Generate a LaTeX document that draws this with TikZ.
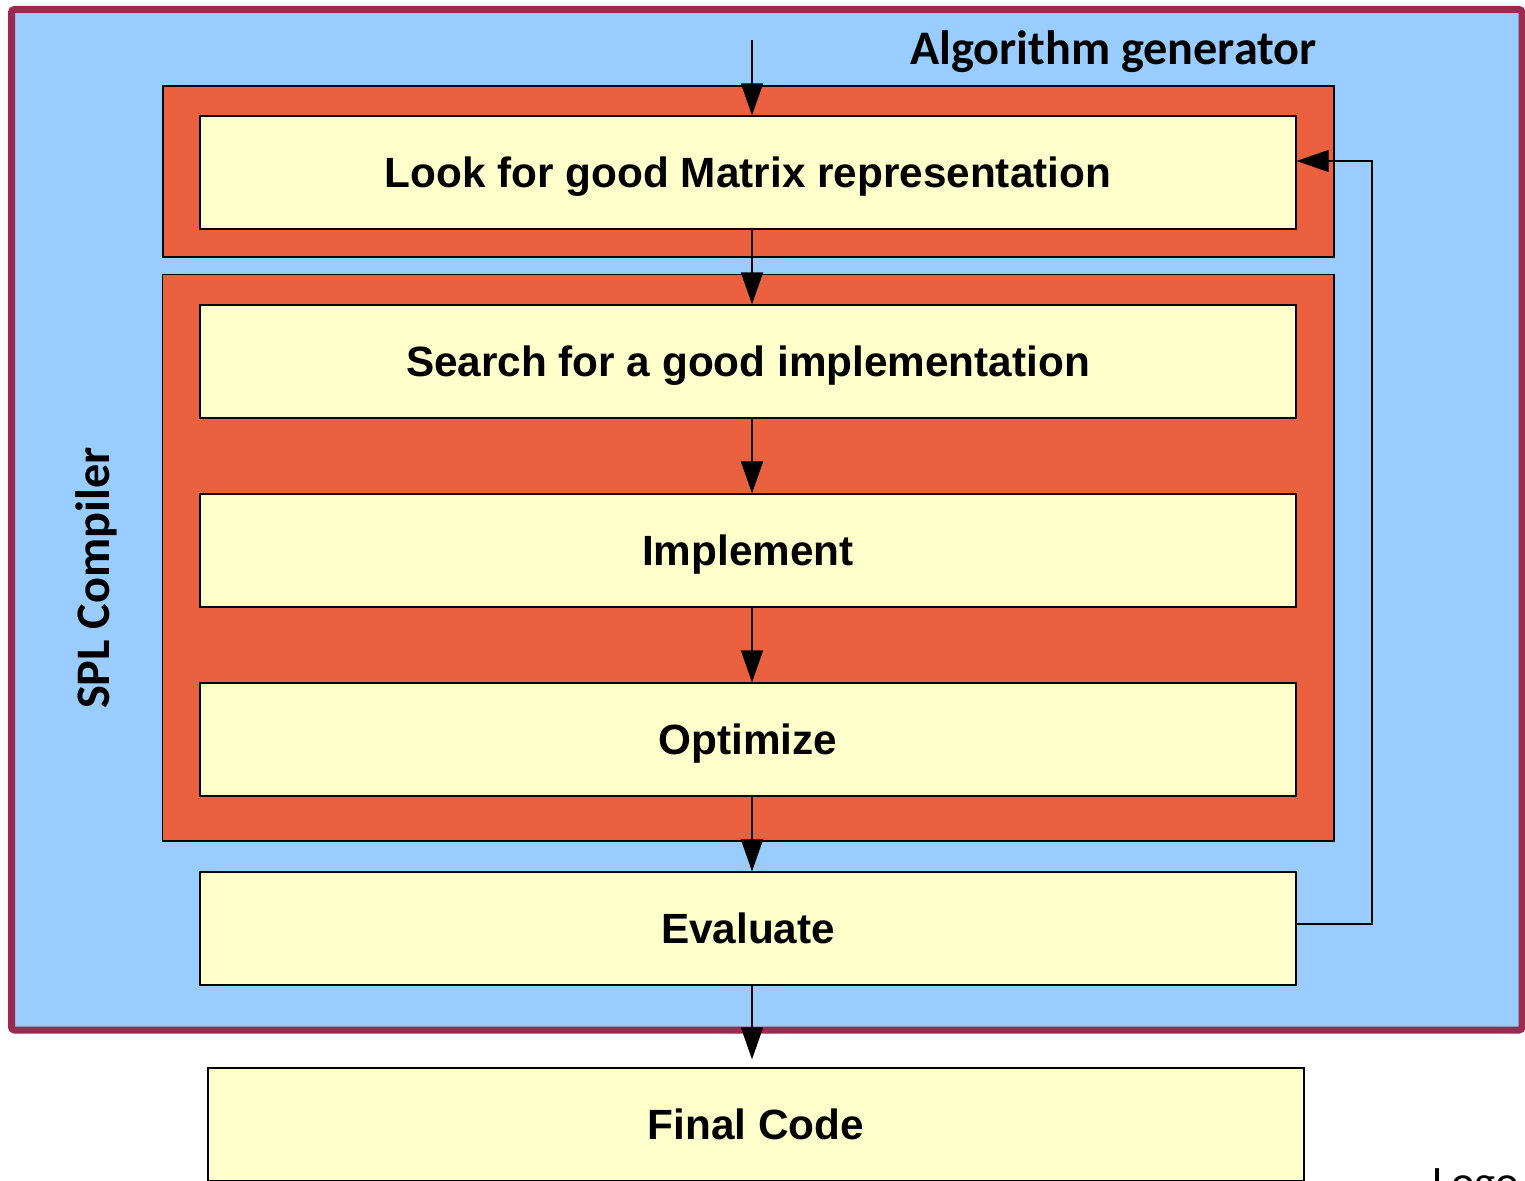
\documentclass[tikz,border=0pt]{standalone}
\usepackage{fontspec}
\usetikzlibrary{arrows.meta}
\newfontfamily\stagefont{Liberation Sans}
\newfontfamily\capfont{Carlito}

\definecolor{panelblue}{RGB}{153,204,255}
\definecolor{groupred}{RGB}{235,97,64}
\definecolor{stageyellow}{RGB}{255,255,204}
\definecolor{framemaroon}{RGB}{155,42,78}

\begin{document}
\begin{tikzpicture}[x=1pt,y=-1pt,
  genframe/.style={draw=framemaroon, line width=7pt, fill=panelblue,
    rounded corners=3pt, inner sep=0pt},
  groupbox/.style={draw=black, line width=1.3pt, fill=groupred, inner sep=0pt},
  stage/.style={draw=black, line width=1.2pt, fill=stageyellow,
    minimum width=1096pt, minimum height=113pt, inner sep=0pt,
    text height=30.3pt, text depth=0pt,
    font=\stagefont\bfseries\fontsize{42.3}{50}\selectfont},
  flow/.style={draw=black, line width=1.4pt,
    -{Triangle[width=22pt,length=32pt]}},
  loopflow/.style={flow, line width=1.1pt},
  heading/.style={inner sep=0pt, font=\capfont\bfseries\fontsize{48.2}{58}\selectfont},
]
\useasboundingbox (0,0) rectangle (1525,1180);
\clip (0,0) rectangle (1525,1180);

% outer algorithm-generator frame
\node[genframe, minimum width=1510.5pt, minimum height=1020.5pt] (gen) at (766.75,519.75) {};

% red grouping panels
\node[groupbox, minimum width=1171pt, minimum height=171pt] (grpA) at (748.5,171.5) {};
\node[groupbox, minimum width=1171.5pt, minimum height=566.5pt] (grpB) at (748.25,557.75) {};

% pipeline stages
\node[stage] (look) at (748,172.5) {Look for good Matrix representation};
\node[stage] (search) at (748,361.5) {Search for a good implementation};
\node[stage] (impl) at (748,550.5) {Implement};
\node[stage] (opt) at (748,739.5) {Optimize};
\node[stage] (eval) at (748,928.5) {Evaluate};
\node[stage] (final) at (756,1124.5) {Final Code};

% labels
\node[heading, anchor=base west] (title) at (910,65) {Algorithm generator};
\node[heading, rotate=90, anchor=base west] (spl) at (109,709) {SPL Compiler};
\node[inner sep=0pt, anchor=base west, font=\capfont\fontsize{45}{54}\selectfont] (logo) at (1432,1197) {Logo};

% connectors
\coordinate (spine) at (752,0);
\coordinate (entry) at (752,40);
\coordinate (loop) at (1372,500);

\draw[flow] (entry) -- (look.north -| spine);
\draw[flow] (look.south -| spine) -- (search.north -| spine);
\draw[flow] (search.south -| spine) -- (impl.north -| spine);
\draw[flow] (impl.south -| spine) -- (opt.north -| spine);
\draw[flow] (opt.south -| spine) -- (eval.north -| spine);
\draw[flow, shorten >=8pt] (eval.south -| spine) -- (final.north -| spine);
\draw[loopflow] ([yshift=4.5pt]eval.east) -| (loop) |- ([yshift=11.5pt]look.east);
\end{tikzpicture}
\end{document}
